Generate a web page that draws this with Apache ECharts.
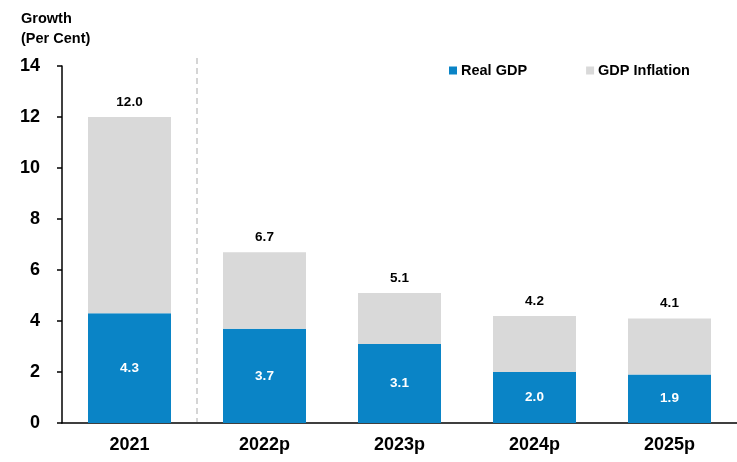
<!DOCTYPE html>
<html><head><meta charset="utf-8">
<script src="https://cdn.jsdelivr.net/npm/echarts@6/dist/echarts.min.js"></script>
<style>html,body{margin:0;padding:0;background:#fff}#c{width:737px;height:462px}</style>
</head><body><div id="c"></div>
<script>
const categories = ['2021','2022p','2023p','2024p','2025p'];
const realGDP = [4.3, 3.7, 3.1, 2.0, 1.9];
const totals = [12.0, 6.7, 5.1, 4.2, 4.1];
const inflation = [7.7, 3.0, 2.0, 2.2, 2.2];
const yTicks = [0, 2, 4, 6, 8, 10, 12, 14];

const FONT = 'Liberation Sans, Arial, sans-serif';
const chart = echarts.init(document.getElementById('c'));
const option = {
  animation: false,
  textStyle: { fontFamily: FONT },
  title: {
    text: 'Growth\n(Per Cent)', left: 16, top: 4,
    textStyle: { fontSize: 14.5, fontWeight: 'bold', color: '#000', lineHeight: 20, fontFamily: FONT }
  },
  legend: {
    data: ['Real GDP', 'GDP Inflation'], left: 444, top: 58,
    itemWidth: 8, itemHeight: 8, itemGap: 59, icon: 'rect',
    textStyle: { fontSize: 14.5, fontWeight: 'bold', color: '#000', padding: [0,0,0,-1], fontFamily: FONT }
  },
  grid: { left: 62, right: 0, top: 66, bottom: 39 },
  xAxis: {
    type: 'category', data: categories,
    axisLine: { lineStyle: { color: '#000', width: 1.5 } },
    axisTick: { show: false },
    axisLabel: { fontSize: 18, fontWeight: 'bold', color: '#000', margin: 13, fontFamily: FONT }
  },
  yAxis: {
    type: 'value', min: 0, max: 14, interval: 2,
    axisLine: { show: true, lineStyle: { color: '#000', width: 1.5 } },
    axisTick: { show: true, length: 5, lineStyle: { color: '#000', width: 1.5 } },
    splitLine: { show: false },
    axisLabel: { fontSize: 18, fontWeight: 'bold', color: '#000', margin: 22, fontFamily: FONT,
      formatter: v => yTicks.includes(v) ? String(v) : '' }
  },
  series: [
    { name: 'Real GDP', type: 'bar', stack: 'g', data: realGDP, barWidth: 83,
      itemStyle: { color: '#0A84C6' },
      label: { show: true, position: 'inside', color: '#fff', fontSize: 13.5, fontWeight: 'bold', fontFamily: FONT,
        formatter: p => p.value.toFixed(1) } },
    { name: 'GDP Inflation', type: 'bar', stack: 'g', data: inflation, barWidth: 83,
      itemStyle: { color: '#D9D9D9' },
      label: { show: true, position: 'top', distance: 8, color: '#000', fontSize: 13.5, fontWeight: 'bold', fontFamily: FONT,
        formatter: p => totals[p.dataIndex].toFixed(1) } }
  ]
};
chart.setOption(option);
const p0 = chart.convertToPixel({ xAxisIndex: 0, yAxisIndex: 0 }, [0, 0]);
const p1 = chart.convertToPixel({ xAxisIndex: 0, yAxisIndex: 0 }, [1, 14]);
const xm = (p0[0] + p1[0]) / 2;
chart.setOption({
  graphic: [{ type: 'line', shape: { x1: xm, y1: p1[1] - 8, x2: xm, y2: p0[1] - 1 },
    style: { stroke: '#c8c8c8', lineWidth: 1.5, lineDash: [6, 4] } }]
});
</script></body></html>
